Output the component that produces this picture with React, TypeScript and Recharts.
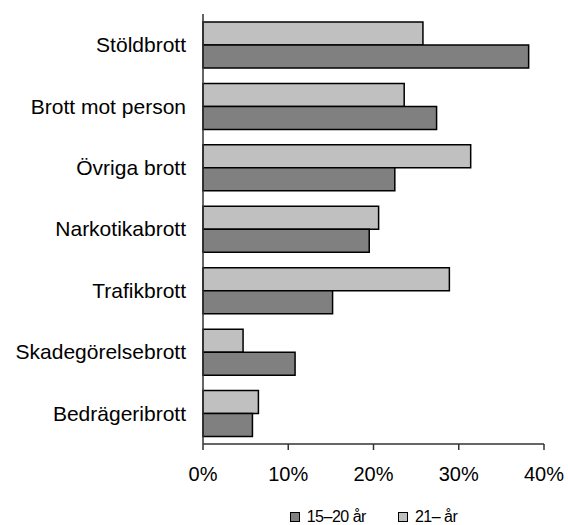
import * as React from "react"
import { BarChart, Bar, XAxis, YAxis, Legend } from "recharts"

const categories = [
    "Stöldbrott",
    "Brott mot person",
    "Övriga brott",
    "Narkotikabrott",
    "Trafikbrott",
    "Skadegörelsebrott",
    "Bedrägeribrott",
]
const young = [38.2, 27.4, 22.5, 19.5, 15.2, 10.8, 5.8]
const older = [25.8, 23.6, 31.4, 20.6, 28.9, 4.7, 6.5]
const xTicks = [0, 10, 20, 30, 40]
const seriesNames = ["15–20 år", "21– år"]
const seriesColors = ["#808080", "#C0C0C0"]

const data = categories.map((name, i) => ({ name, young: young[i], older: older[i] }))

const font = "'Liberation Sans', Arial, sans-serif"

const LegendBox = () => (
    <div
        style={{
            display: "flex",
            justifyContent: "center",
            alignItems: "center",
            fontFamily: font,
            fontSize: 16,
            color: "#000",
            paddingTop: 20,
            lineHeight: "16px",
        }}
    >
        {seriesNames.map((n, i) => (
            <div key={n} style={{ display: "flex", alignItems: "center", marginLeft: i ? 32 : 0 }}>
                <span
                    style={{
                        display: "inline-block",
                        width: 8,
                        height: 8,
                        background: seriesColors[i],
                        border: "1.5px solid #000",
                        marginRight: 7,
                    }}
                />
                <span style={{ letterSpacing: "-0.5px" }}>{n}</span>
            </div>
        ))}
    </div>
)

export default function App() {
    return (
        <div style={{ position: "absolute", left: 0, top: 0, width: 568, height: 525, background: "#fff" }}>
            <BarChart
                width={568}
                height={525}
                data={data}
                layout="vertical"
                margin={{ top: 14, right: 24, bottom: 0, left: 0 }}
                barCategoryGap="13%"
                barGap={0}
            >
                <XAxis
                    type="number"
                    domain={[0, 40]}
                    ticks={xTicks}
                    tickFormatter={(v) => `${v}%`}
                    height={45}
                    tickSize={6}
                    tickMargin={17}
                    axisLine={{ stroke: "#333", strokeWidth: 1.5 }}
                    tickLine={{ stroke: "#333", strokeWidth: 1.5 }}
                    tick={{ fill: "#000", fontSize: 20, fontFamily: font }}
                    interval={0}
                />
                <XAxis
                    xAxisId="top"
                    orientation="top"
                    type="number"
                    domain={[0, 40]}
                    height={0}
                    tick={false}
                    tickLine={false}
                    axisLine={{ stroke: "#808080", strokeWidth: 1.5 }}
                />
                <YAxis
                    type="category"
                    dataKey="name"
                    width={203}
                    tickSize={6}
                    tickMargin={11}
                    tickLine={false}
                    axisLine={{ stroke: "#333", strokeWidth: 1.5 }}
                    tick={{ fill: "#000", fontSize: 21, fontFamily: font }}
                    interval={0}
                />
                <YAxis
                    yAxisId="right"
                    orientation="right"
                    type="category"
                    dataKey="name"
                    width={0}
                    tick={false}
                    tickLine={false}
                    axisLine={{ stroke: "#808080", strokeWidth: 1.5 }}
                />
                <Legend
                    verticalAlign="bottom"
                    height={36}
                    content={() => <LegendBox />}
                    wrapperStyle={{ left: 203, width: 341, bottom: 0 }}
                />
                <Bar
                    dataKey="older"
                    name={seriesNames[1]}
                    fill={seriesColors[1]}
                    stroke="#000"
                    strokeWidth={1.5}
                    isAnimationActive={false}
                />
                <Bar
                    dataKey="young"
                    name={seriesNames[0]}
                    fill={seriesColors[0]}
                    stroke="#000"
                    strokeWidth={1.5}
                    isAnimationActive={false}
                />
            </BarChart>
        </div>
    )
}
